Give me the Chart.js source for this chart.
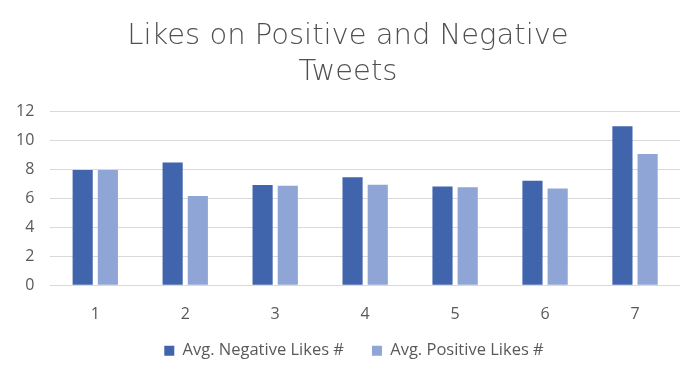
<!DOCTYPE html>
<html>
<head>
<meta charset="utf-8">
<script src="https://cdn.jsdelivr.net/npm/chart.js@4/dist/chart.umd.min.js"></script>
<style>
  html, body { margin: 0; padding: 0; background: #ffffff; }
  #wrap { width: 697px; height: 381px; }
</style>
</head>
<body>
<div id="wrap"><canvas id="chart"></canvas></div>
<script>
// Data
const categories = ['1', '2', '3', '4', '5', '6', '7'];
const negativeLikes = [7.95, 8.45, 6.9, 7.45, 6.8, 7.2, 10.95];
const positiveLikes = [7.95, 6.15, 6.85, 6.92, 6.75, 6.66, 9.05];
const titleLines = ['Likes on Positive and Negative', 'Tweets'];

const textColor = '#595959';
const gridColor = '#d9d9d9';
const tickFont = { family: 'Open Sans', size: 16 };

// legend items need a wide gap, but the gap option also sets the height;
// take the extra height back so it does not squeeze the plot.
// title and legend sit a little right of the canvas middle in the original
const LEGEND_TRIM = 22;
const LEGEND_SHIFT = 14;
const TITLE_SHIFT = 8;

function shiftDraw(box, dx, dy) {
  const draw = box.draw;
  box.draw = function () {
    this.left += dx; this.right += dx; this.top -= dy;
    draw.apply(this, arguments);
    this.left -= dx; this.right -= dx; this.top += dy;
  };
}

const boxTweaks = {
  id: 'boxTweaks',
  beforeInit(chart) {
    const legend = chart.legend;
    const fit = legend.fit;
    legend.fit = function () { fit.call(this); this.height -= LEGEND_TRIM; };
    shiftDraw(legend, LEGEND_SHIFT, LEGEND_TRIM);
    shiftDraw(chart.titleBlock, TITLE_SHIFT, 0);
  }
};

const ctx = document.getElementById('chart').getContext('2d');
new Chart(ctx, {
  type: 'bar',
  data: {
    labels: categories,
    datasets: [
      {
        label: 'Avg. Negative Likes #',
        data: negativeLikes,
        backgroundColor: '#4165ad',
        categoryPercentage: 0.56,
        barPercentage: 0.8
      },
      {
        label: 'Avg. Positive Likes #',
        data: positiveLikes,
        backgroundColor: '#8fa5d5',
        categoryPercentage: 0.56,
        barPercentage: 0.8
      }
    ]
  },
  plugins: [boxTweaks],
  options: {
    responsive: true,
    maintainAspectRatio: false,
    animation: false,
    layout: { padding: { left: 0, right: 17, top: 12, bottom: 12 } },
    plugins: {
      title: {
        display: true,
        text: titleLines,
        color: '#505050',
        font: { family: 'DejaVu Sans', size: 29, weight: '200', lineHeight: 1.26 },
        padding: { top: 6, bottom: 20 }
      },
      legend: {
        position: 'bottom',
        labels: {
          color: textColor,
          font: { family: 'Open Sans', size: 16.5 },
          boxWidth: 10,
          boxHeight: 10,
          padding: 28
        }
      },
      tooltip: { enabled: false }
    },
    scales: {
      x: {
        grid: { display: false },
        border: { display: false },
        ticks: { color: textColor, font: tickFont, padding: 12 }
      },
      y: {
        min: 0,
        max: 12,
        ticks: { stepSize: 2, color: textColor, font: tickFont, padding: 16 },
        grid: { color: gridColor, lineWidth: 1, drawTicks: false },
        border: { display: false }
      }
    }
  }
});
</script>
</body>
</html>
